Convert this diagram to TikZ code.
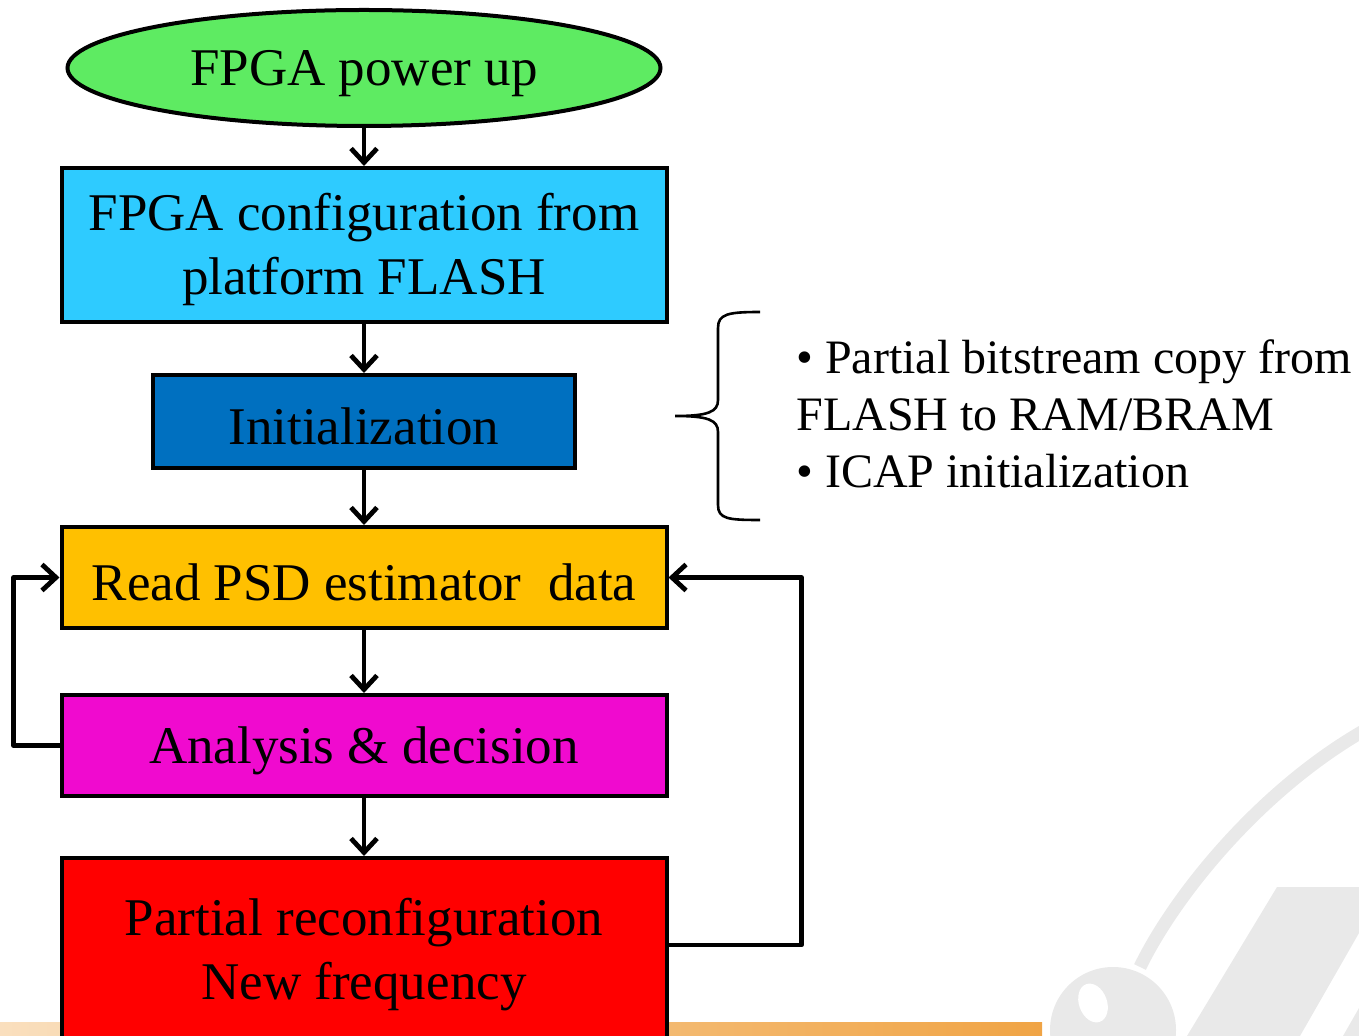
\documentclass[tikz,border=0pt]{standalone}
\usepackage{fontspec}
\setmainfont{Liberation Serif}
\usepackage{tikz}
\usetikzlibrary{shapes.geometric, arrows.meta}

\definecolor{startgreen}{HTML}{5EEB62}
\definecolor{configblue}{HTML}{2ECBFF}
\definecolor{initblue}{HTML}{0070C0}
\definecolor{readyellow}{HTML}{FFC000}
\definecolor{decmagenta}{HTML}{F00ACF}
\definecolor{wmgray}{HTML}{E9E9E9}
\definecolor{bandorange}{HTML}{F0A445}

\newcommand{\toprule}{\rule{0pt}{23.5pt}}
\tikzstyle{startstop} = [ellipse, draw, line width=2pt, fill=startgreen, minimum width=296.5pt, minimum height=58pt, inner sep=0pt, font=\fontsize{26.5}{32}\selectfont]
\tikzstyle{process} = [rectangle, draw, line width=2pt, align=center, inner sep=0pt, minimum width=302.5pt, font=\fontsize{26.5}{32}\selectfont]
\tikzstyle{arrow} = [line width=2.4pt, line join=round, -{Straight Barb[length=7pt,width=13pt,line width=2.4pt]}]

\begin{document}
\begin{tikzpicture}[x=0.5pt,y=-0.5pt]
	\useasboundingbox (0,0) rectangle (1359,1036);
	\clip (0,0) rectangle (1359,1036);
	
	% Background:
	% slide band at the bottom and the light watermark
	\shade[left color=bandorange!35, right color=bandorange] (0,1022) rectangle (1042,1036);
	\fill[wmgray] (1113,1030) circle (63);
	\fill[white, rotate around={20:(1093,1003)}] (1093,1003) ellipse (14 and 20);
	\draw[wmgray, line width=6.5pt] (1140,967) .. controls (1175,895) and (1260,790) .. (1365,730);
	\fill[wmgray] (1277,887) -- (1359,887) -- (1359,933) -- (1300,1036) -- (1187,1036) -- cycle;
	\fill[wmgray] (1343,1036) -- (1359,1008) -- (1359,1036) -- cycle;
	
	% Flow:
	% (\toprule lowers the text a little inside its box)
	\node (start) [startstop] at (364,68) {\toprule FPGA power up};
	\node (config) [process, fill=configblue, minimum height=77pt] at (364,245) {\toprule FPGA configuration from\\platform FLASH};
	\node (init) [process, fill=initblue, minimum width=211pt, minimum height=46.5pt] at (364,421.5) {\toprule Initialization};
	\node (read) [process, fill=readyellow, minimum height=50.5pt] at (364,577.5) {\toprule Read PSD estimator~ data};
	\node (decide) [process, fill=decmagenta, minimum height=50.5pt] at (364,745.5) {\toprule Analysis \& decision};
	\node (reconf) [process, fill=red, minimum height=92pt] at (364,950) {\toprule Partial reconfiguration\\New frequency};
	
	\draw [arrow] (start) -- (config);
	\draw [arrow] (config) -- (init);
	\draw [arrow] (init) -- (read);
	\draw [arrow] (read) -- (decide);
	\draw [arrow] (decide) -- (reconf);
	
	% Loops back to reading:
	\draw [arrow] (decide.west) -- ++(-46,0) |- (read.west);
	\draw [arrow] ([yshift=2.5pt]reconf.east) -- ++(133,0) |- (read.east);
	
	% Brace and notes:
	\draw[line width=1.3pt] (760,312) .. controls (728,312) and (718,314) .. (718,328) -- (718,400)
		.. controls (718,412) and (708,416) .. (675,416)
		.. controls (708,416) and (718,420) .. (718,432) -- (718,505)
		.. controls (718,519) and (728,520) .. (760,520);
	\node (notes) [anchor=west, align=left, inner sep=0pt, font=\fontsize{24}{28.5}\selectfont] at (796,414)
		{• Partial bitstream copy from\\FLASH to RAM/BRAM\\• ICAP initialization};
	
\end{tikzpicture}
\end{document}
